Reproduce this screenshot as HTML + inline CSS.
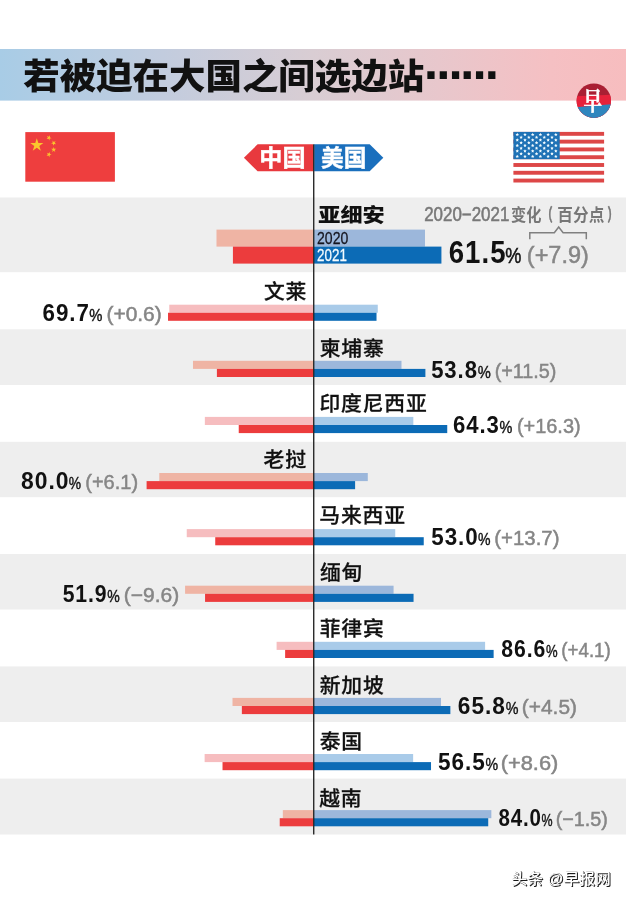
<!DOCTYPE html>
<html lang="zh-CN">
<head>
<meta charset="utf-8">
<title>若被迫在大国之间选边站</title>
<style>
html,body{margin:0;padding:0;background:#fff;}
body{width:626px;height:902px;overflow:hidden;font-family:"Liberation Sans","Noto Sans CJK SC",sans-serif;}
svg{display:block;}
text{white-space:pre;}
</style>
</head>
<body>
<svg width="626" height="902" viewBox="0 0 626 902">
<defs>
<linearGradient id="hg" x1="0" y1="0" x2="1" y2="0">
<stop offset="0" stop-color="#A8CCE6"/>
<stop offset="0.26" stop-color="#C2CCDE"/>
<stop offset="0.5" stop-color="#D9CDD3"/>
<stop offset="0.7" stop-color="#E8C7CC"/>
<stop offset="0.88" stop-color="#F5C0C3"/>
<stop offset="1" stop-color="#F7BDBF"/>
</linearGradient>
<clipPath id="lc"><circle cx="593.8" cy="100.7" r="17.2"/></clipPath>
</defs>
<rect x="0" y="0" width="626" height="902" fill="#fff"/>
<rect x="0" y="49.0" width="626" height="51.6" fill="url(#hg)"/>
<rect x="0.00" y="197.50" width="626.00" height="74.70" fill="#EEEEEE"/>
<rect x="216.49" y="229.60" width="96.51" height="17.00" fill="#EFB4A4"/>
<rect x="232.92" y="246.60" width="80.08" height="17.00" fill="#EC3C3D"/>
<rect x="314.00" y="229.60" width="110.99" height="17.00" fill="#9CB7DB"/>
<rect x="314.00" y="246.60" width="127.42" height="17.00" fill="#0C6BB6"/>
<rect x="169.27" y="304.70" width="143.73" height="8.05" fill="#F6BDBF"/>
<rect x="168.02" y="312.75" width="144.98" height="8.05" fill="#EC3C3D"/>
<rect x="314.00" y="304.70" width="63.77" height="8.05" fill="#A9CBE9"/>
<rect x="314.00" y="312.75" width="62.52" height="8.05" fill="#0C6BB6"/>
<rect x="0.00" y="329.30" width="626.00" height="55.70" fill="#EEEEEE"/>
<rect x="192.98" y="360.80" width="120.02" height="8.10" fill="#EFB4A4"/>
<rect x="216.90" y="368.90" width="96.10" height="8.10" fill="#EC3C3D"/>
<rect x="314.00" y="360.80" width="87.48" height="8.10" fill="#9CB7DB"/>
<rect x="314.00" y="368.90" width="111.40" height="8.10" fill="#0C6BB6"/>
<rect x="204.84" y="416.90" width="108.16" height="8.10" fill="#F6BDBF"/>
<rect x="238.74" y="425.00" width="74.26" height="8.10" fill="#EC3C3D"/>
<rect x="314.00" y="416.90" width="99.34" height="8.10" fill="#A9CBE9"/>
<rect x="314.00" y="425.00" width="133.24" height="8.10" fill="#0C6BB6"/>
<rect x="0.00" y="441.80" width="626.00" height="55.40" fill="#EEEEEE"/>
<rect x="159.29" y="473.00" width="153.71" height="8.10" fill="#EFB4A4"/>
<rect x="146.60" y="481.10" width="166.40" height="8.10" fill="#EC3C3D"/>
<rect x="314.00" y="473.00" width="53.79" height="8.10" fill="#9CB7DB"/>
<rect x="314.00" y="481.10" width="41.10" height="8.10" fill="#0C6BB6"/>
<rect x="186.74" y="529.10" width="126.26" height="8.10" fill="#F6BDBF"/>
<rect x="215.24" y="537.20" width="97.76" height="8.10" fill="#EC3C3D"/>
<rect x="314.00" y="529.10" width="81.24" height="8.10" fill="#A9CBE9"/>
<rect x="314.00" y="537.20" width="109.74" height="8.10" fill="#0C6BB6"/>
<rect x="0.00" y="554.00" width="626.00" height="55.50" fill="#EEEEEE"/>
<rect x="185.08" y="585.70" width="127.92" height="8.10" fill="#EFB4A4"/>
<rect x="205.05" y="593.80" width="107.95" height="8.10" fill="#EC3C3D"/>
<rect x="314.00" y="585.70" width="79.58" height="8.10" fill="#9CB7DB"/>
<rect x="314.00" y="593.80" width="99.55" height="8.10" fill="#0C6BB6"/>
<rect x="276.60" y="641.80" width="36.40" height="8.10" fill="#F6BDBF"/>
<rect x="285.13" y="649.90" width="27.87" height="8.10" fill="#EC3C3D"/>
<rect x="314.00" y="641.80" width="171.10" height="8.10" fill="#A9CBE9"/>
<rect x="314.00" y="649.90" width="179.63" height="8.10" fill="#0C6BB6"/>
<rect x="0.00" y="666.40" width="626.00" height="55.60" fill="#EEEEEE"/>
<rect x="232.50" y="697.90" width="80.50" height="8.10" fill="#EFB4A4"/>
<rect x="241.86" y="706.00" width="71.14" height="8.10" fill="#EC3C3D"/>
<rect x="314.00" y="697.90" width="127.00" height="8.10" fill="#9CB7DB"/>
<rect x="314.00" y="706.00" width="136.36" height="8.10" fill="#0C6BB6"/>
<rect x="204.63" y="754.00" width="108.37" height="8.10" fill="#F6BDBF"/>
<rect x="222.52" y="762.10" width="90.48" height="8.10" fill="#EC3C3D"/>
<rect x="314.00" y="754.00" width="99.13" height="8.10" fill="#A9CBE9"/>
<rect x="314.00" y="762.10" width="117.02" height="8.10" fill="#0C6BB6"/>
<rect x="0.00" y="778.60" width="626.00" height="55.90" fill="#EEEEEE"/>
<rect x="282.84" y="810.10" width="30.16" height="8.10" fill="#EFB4A4"/>
<rect x="279.72" y="818.20" width="33.28" height="8.10" fill="#EC3C3D"/>
<rect x="314.00" y="810.10" width="177.34" height="8.10" fill="#9CB7DB"/>
<rect x="314.00" y="818.20" width="174.22" height="8.10" fill="#0C6BB6"/>
<!-- tags -->
<polygon points="243.9,157.8 257.6,144.3 313.2,144.3 313.2,171.3 257.6,171.3" fill="#E8393E"/>
<polygon points="314.2,144.3 369.7,144.3 383.3,157.8 369.7,171.3 314.2,171.3" fill="#1A6FBD"/>
<!-- center line -->
<rect x="313.05" y="144.3" width="1.35" height="690.2" fill="#222"/>
<!-- china flag -->
<rect x="25.3" y="132.1" width="89.6" height="49.6" fill="#EE3E3E"/>
<g fill="#FAC62D">
<polygon id="st" points="0,-1 0.2245,-0.309 0.951,-0.309 0.363,0.118 0.588,0.809 0,0.382 -0.588,0.809 -0.363,0.118 -0.951,-0.309 -0.2245,-0.309" transform="translate(36.8 145.2) scale(6.9)"/>
<polygon points="0,-1 0.2245,-0.309 0.951,-0.309 0.363,0.118 0.588,0.809 0,0.382 -0.588,0.809 -0.363,0.118 -0.951,-0.309 -0.2245,-0.309" transform="translate(48.9 137.8) rotate(25) scale(2.7)"/>
<polygon points="0,-1 0.2245,-0.309 0.951,-0.309 0.363,0.118 0.588,0.809 0,0.382 -0.588,0.809 -0.363,0.118 -0.951,-0.309 -0.2245,-0.309" transform="translate(53.7 143.0) rotate(45) scale(2.7)"/>
<polygon points="0,-1 0.2245,-0.309 0.951,-0.309 0.363,0.118 0.588,0.809 0,0.382 -0.588,0.809 -0.363,0.118 -0.951,-0.309 -0.2245,-0.309" transform="translate(53.7 149.7) rotate(0) scale(2.7)"/>
<polygon points="0,-1 0.2245,-0.309 0.951,-0.309 0.363,0.118 0.588,0.809 0,0.382 -0.588,0.809 -0.363,0.118 -0.951,-0.309 -0.2245,-0.309" transform="translate(48.9 154.5) rotate(25) scale(2.7)"/>
</g>
<!-- us flag -->
<g>
<rect x="513.4" y="131.9" width="90.7" height="50.6" fill="#fff"/>
<g fill="#DD4747">
<rect x="513.4" y="131.90" width="90.7" height="3.9"/>
<rect x="513.4" y="139.68" width="90.7" height="3.9"/>
<rect x="513.4" y="147.47" width="90.7" height="3.9"/>
<rect x="513.4" y="155.25" width="90.7" height="3.9"/>
<rect x="513.4" y="163.04" width="90.7" height="3.9"/>
<rect x="513.4" y="170.82" width="90.7" height="3.9"/>
<rect x="513.4" y="178.60" width="90.7" height="3.9"/>
</g>
<rect x="513.4" y="131.9" width="46.3" height="27.3" fill="#1F72B6"/>
<g fill="#F2FBFF"><polygon points="517.26,132.83 517.79,133.90 518.97,134.07 518.11,134.91 518.32,136.09 517.26,135.53 516.20,136.09 516.40,134.91 515.55,134.07 516.73,133.90"/><polygon points="524.98,132.83 525.50,133.90 526.69,134.07 525.83,134.91 526.03,136.09 524.98,135.53 523.92,136.09 524.12,134.91 523.26,134.07 524.45,133.90"/><polygon points="532.69,132.83 533.22,133.90 534.40,134.07 533.55,134.91 533.75,136.09 532.69,135.53 531.63,136.09 531.84,134.91 530.98,134.07 532.16,133.90"/><polygon points="540.41,132.83 540.94,133.90 542.12,134.07 541.26,134.91 541.47,136.09 540.41,135.53 539.35,136.09 539.55,134.91 538.70,134.07 539.88,133.90"/><polygon points="548.12,132.83 548.65,133.90 549.84,134.07 548.98,134.91 549.18,136.09 548.12,135.53 547.07,136.09 547.27,134.91 546.41,134.07 547.60,133.90"/><polygon points="555.84,132.83 556.37,133.90 557.55,134.07 556.70,134.91 556.90,136.09 555.84,135.53 554.78,136.09 554.99,134.91 554.13,134.07 555.31,133.90"/><polygon points="521.12,135.56 521.65,136.63 522.83,136.80 521.97,137.64 522.17,138.82 521.12,138.26 520.06,138.82 520.26,137.64 519.40,136.80 520.59,136.63"/><polygon points="528.83,135.56 529.36,136.63 530.55,136.80 529.69,137.64 529.89,138.82 528.83,138.26 527.78,138.82 527.98,137.64 527.12,136.80 528.30,136.63"/><polygon points="536.55,135.56 537.08,136.63 538.26,136.80 537.41,137.64 537.61,138.82 536.55,138.26 535.49,138.82 535.69,137.64 534.84,136.80 536.02,136.63"/><polygon points="544.27,135.56 544.80,136.63 545.98,136.80 545.12,137.64 545.32,138.82 544.27,138.26 543.21,138.82 543.41,137.64 542.55,136.80 543.74,136.63"/><polygon points="551.98,135.56 552.51,136.63 553.70,136.80 552.84,137.64 553.04,138.82 551.98,138.26 550.93,138.82 551.13,137.64 550.27,136.80 551.45,136.63"/><polygon points="517.26,138.29 517.79,139.36 518.97,139.53 518.11,140.37 518.32,141.55 517.26,140.99 516.20,141.55 516.40,140.37 515.55,139.53 516.73,139.36"/><polygon points="524.98,138.29 525.50,139.36 526.69,139.53 525.83,140.37 526.03,141.55 524.98,140.99 523.92,141.55 524.12,140.37 523.26,139.53 524.45,139.36"/><polygon points="532.69,138.29 533.22,139.36 534.40,139.53 533.55,140.37 533.75,141.55 532.69,140.99 531.63,141.55 531.84,140.37 530.98,139.53 532.16,139.36"/><polygon points="540.41,138.29 540.94,139.36 542.12,139.53 541.26,140.37 541.47,141.55 540.41,140.99 539.35,141.55 539.55,140.37 538.70,139.53 539.88,139.36"/><polygon points="548.12,138.29 548.65,139.36 549.84,139.53 548.98,140.37 549.18,141.55 548.12,140.99 547.07,141.55 547.27,140.37 546.41,139.53 547.60,139.36"/><polygon points="555.84,138.29 556.37,139.36 557.55,139.53 556.70,140.37 556.90,141.55 555.84,140.99 554.78,141.55 554.99,140.37 554.13,139.53 555.31,139.36"/><polygon points="521.12,141.02 521.65,142.09 522.83,142.26 521.97,143.10 522.17,144.28 521.12,143.72 520.06,144.28 520.26,143.10 519.40,142.26 520.59,142.09"/><polygon points="528.83,141.02 529.36,142.09 530.55,142.26 529.69,143.10 529.89,144.28 528.83,143.72 527.78,144.28 527.98,143.10 527.12,142.26 528.30,142.09"/><polygon points="536.55,141.02 537.08,142.09 538.26,142.26 537.41,143.10 537.61,144.28 536.55,143.72 535.49,144.28 535.69,143.10 534.84,142.26 536.02,142.09"/><polygon points="544.27,141.02 544.80,142.09 545.98,142.26 545.12,143.10 545.32,144.28 544.27,143.72 543.21,144.28 543.41,143.10 542.55,142.26 543.74,142.09"/><polygon points="551.98,141.02 552.51,142.09 553.70,142.26 552.84,143.10 553.04,144.28 551.98,143.72 550.93,144.28 551.13,143.10 550.27,142.26 551.45,142.09"/><polygon points="517.26,143.75 517.79,144.82 518.97,144.99 518.11,145.83 518.32,147.01 517.26,146.45 516.20,147.01 516.40,145.83 515.55,144.99 516.73,144.82"/><polygon points="524.98,143.75 525.50,144.82 526.69,144.99 525.83,145.83 526.03,147.01 524.98,146.45 523.92,147.01 524.12,145.83 523.26,144.99 524.45,144.82"/><polygon points="532.69,143.75 533.22,144.82 534.40,144.99 533.55,145.83 533.75,147.01 532.69,146.45 531.63,147.01 531.84,145.83 530.98,144.99 532.16,144.82"/><polygon points="540.41,143.75 540.94,144.82 542.12,144.99 541.26,145.83 541.47,147.01 540.41,146.45 539.35,147.01 539.55,145.83 538.70,144.99 539.88,144.82"/><polygon points="548.12,143.75 548.65,144.82 549.84,144.99 548.98,145.83 549.18,147.01 548.12,146.45 547.07,147.01 547.27,145.83 546.41,144.99 547.60,144.82"/><polygon points="555.84,143.75 556.37,144.82 557.55,144.99 556.70,145.83 556.90,147.01 555.84,146.45 554.78,147.01 554.99,145.83 554.13,144.99 555.31,144.82"/><polygon points="521.12,146.48 521.65,147.55 522.83,147.72 521.97,148.56 522.17,149.74 521.12,149.18 520.06,149.74 520.26,148.56 519.40,147.72 520.59,147.55"/><polygon points="528.83,146.48 529.36,147.55 530.55,147.72 529.69,148.56 529.89,149.74 528.83,149.18 527.78,149.74 527.98,148.56 527.12,147.72 528.30,147.55"/><polygon points="536.55,146.48 537.08,147.55 538.26,147.72 537.41,148.56 537.61,149.74 536.55,149.18 535.49,149.74 535.69,148.56 534.84,147.72 536.02,147.55"/><polygon points="544.27,146.48 544.80,147.55 545.98,147.72 545.12,148.56 545.32,149.74 544.27,149.18 543.21,149.74 543.41,148.56 542.55,147.72 543.74,147.55"/><polygon points="551.98,146.48 552.51,147.55 553.70,147.72 552.84,148.56 553.04,149.74 551.98,149.18 550.93,149.74 551.13,148.56 550.27,147.72 551.45,147.55"/><polygon points="517.26,149.21 517.79,150.28 518.97,150.45 518.11,151.29 518.32,152.47 517.26,151.91 516.20,152.47 516.40,151.29 515.55,150.45 516.73,150.28"/><polygon points="524.98,149.21 525.50,150.28 526.69,150.45 525.83,151.29 526.03,152.47 524.98,151.91 523.92,152.47 524.12,151.29 523.26,150.45 524.45,150.28"/><polygon points="532.69,149.21 533.22,150.28 534.40,150.45 533.55,151.29 533.75,152.47 532.69,151.91 531.63,152.47 531.84,151.29 530.98,150.45 532.16,150.28"/><polygon points="540.41,149.21 540.94,150.28 542.12,150.45 541.26,151.29 541.47,152.47 540.41,151.91 539.35,152.47 539.55,151.29 538.70,150.45 539.88,150.28"/><polygon points="548.12,149.21 548.65,150.28 549.84,150.45 548.98,151.29 549.18,152.47 548.12,151.91 547.07,152.47 547.27,151.29 546.41,150.45 547.60,150.28"/><polygon points="555.84,149.21 556.37,150.28 557.55,150.45 556.70,151.29 556.90,152.47 555.84,151.91 554.78,152.47 554.99,151.29 554.13,150.45 555.31,150.28"/><polygon points="521.12,151.94 521.65,153.01 522.83,153.18 521.97,154.02 522.17,155.20 521.12,154.64 520.06,155.20 520.26,154.02 519.40,153.18 520.59,153.01"/><polygon points="528.83,151.94 529.36,153.01 530.55,153.18 529.69,154.02 529.89,155.20 528.83,154.64 527.78,155.20 527.98,154.02 527.12,153.18 528.30,153.01"/><polygon points="536.55,151.94 537.08,153.01 538.26,153.18 537.41,154.02 537.61,155.20 536.55,154.64 535.49,155.20 535.69,154.02 534.84,153.18 536.02,153.01"/><polygon points="544.27,151.94 544.80,153.01 545.98,153.18 545.12,154.02 545.32,155.20 544.27,154.64 543.21,155.20 543.41,154.02 542.55,153.18 543.74,153.01"/><polygon points="551.98,151.94 552.51,153.01 553.70,153.18 552.84,154.02 553.04,155.20 551.98,154.64 550.93,155.20 551.13,154.02 550.27,153.18 551.45,153.01"/><polygon points="517.26,154.67 517.79,155.74 518.97,155.91 518.11,156.75 518.32,157.93 517.26,157.37 516.20,157.93 516.40,156.75 515.55,155.91 516.73,155.74"/><polygon points="524.98,154.67 525.50,155.74 526.69,155.91 525.83,156.75 526.03,157.93 524.98,157.37 523.92,157.93 524.12,156.75 523.26,155.91 524.45,155.74"/><polygon points="532.69,154.67 533.22,155.74 534.40,155.91 533.55,156.75 533.75,157.93 532.69,157.37 531.63,157.93 531.84,156.75 530.98,155.91 532.16,155.74"/><polygon points="540.41,154.67 540.94,155.74 542.12,155.91 541.26,156.75 541.47,157.93 540.41,157.37 539.35,157.93 539.55,156.75 538.70,155.91 539.88,155.74"/><polygon points="548.12,154.67 548.65,155.74 549.84,155.91 548.98,156.75 549.18,157.93 548.12,157.37 547.07,157.93 547.27,156.75 546.41,155.91 547.60,155.74"/><polygon points="555.84,154.67 556.37,155.74 557.55,155.91 556.70,156.75 556.90,157.93 555.84,157.37 554.78,157.93 554.99,156.75 554.13,155.91 555.31,155.74"/></g>
</g>
<!-- logo -->
<g clip-path="url(#lc)">
<rect x="576" y="83" width="36" height="36" fill="#A91F33"/>
<polygon points="576,96.2 612,94.8 612,119 576,119" fill="#E6223B"/>
<polygon points="576,107.2 612,104.2 612,119 576,119" fill="#2F86BE"/>
</g>
<!-- bracket -->
<path d="M529.8 239.3 V232.8 H554.3 L558.7 227.0 L563.1 232.8 H586.3 V239.3" fill="none" stroke="#808080" stroke-width="1.5"/>
<!-- watermark -->
<text x="424.05" y="78.1" font-family="'Liberation Sans',sans-serif" font-weight="700" font-size="38.66" fill="#111" stroke="#111" stroke-width="1.8" stroke-linejoin="miter">…<tspan dx="-2.42">…</tspan></text>

<text transform="translate(318.34 221.80) scale(1.1618 1)" font-family="'Liberation Sans','Noto Sans CJK SC',sans-serif" font-weight="900" font-size="19.07" fill="#111">亚细安</text>
<text transform="translate(448.70 262.60) scale(0.8755 1)" font-family="'Liberation Sans',sans-serif" font-weight="700" font-size="31.50" fill="#111" letter-spacing="1.2">61.5</text>
<text transform="translate(505.22 262.60) scale(0.8066 1)" font-family="'Liberation Sans',sans-serif" font-weight="400" font-size="22.50" fill="#111" stroke="#111" stroke-width="0.5" stroke-linejoin="miter">%</text>
<text transform="translate(526.84 262.60) scale(0.9980 1)" font-family="'Liberation Sans',sans-serif" font-weight="400" font-size="23.50" fill="#868686" stroke="#868686" stroke-width="0.5" stroke-linejoin="miter">(+7.9)</text>
<text transform="translate(263.97 298.90) scale(1.0400 1)" font-family="'Liberation Sans','Noto Sans CJK SC',sans-serif" font-weight="500" font-size="20.00" fill="#111" stroke="#111" stroke-width="0.25" stroke-linejoin="miter" letter-spacing="0.8">文莱</text>
<text transform="translate(42.61 321.00) scale(0.9505 1)" font-family="'Liberation Sans',sans-serif" font-weight="700" font-size="23.50" fill="#111" letter-spacing="1.0">69.7</text>
<text transform="translate(89.21 321.00) scale(0.9145 1)" font-family="'Liberation Sans',sans-serif" font-weight="400" font-size="16.20" fill="#111" stroke="#111" stroke-width="0.4" stroke-linejoin="miter">%</text>
<text transform="translate(106.39 321.00) scale(1.0240 1)" font-family="'Liberation Sans',sans-serif" font-weight="400" font-size="20.50" fill="#868686" stroke="#868686" stroke-width="0.5" stroke-linejoin="miter">(+0.6)</text>
<text transform="translate(319.69 355.50) scale(1.0400 1)" font-family="'Liberation Sans','Noto Sans CJK SC',sans-serif" font-weight="500" font-size="20.00" fill="#111" stroke="#111" stroke-width="0.25" stroke-linejoin="miter" letter-spacing="0.8">柬埔寨</text>
<text transform="translate(431.14 377.90) scale(0.9406 1)" font-family="'Liberation Sans',sans-serif" font-weight="700" font-size="23.50" fill="#111" letter-spacing="1.0">53.8</text>
<text transform="translate(477.71 377.90) scale(0.9069 1)" font-family="'Liberation Sans',sans-serif" font-weight="400" font-size="16.20" fill="#111" stroke="#111" stroke-width="0.4" stroke-linejoin="miter">%</text>
<text transform="translate(494.66 377.90) scale(0.9659 1)" font-family="'Liberation Sans',sans-serif" font-weight="400" font-size="20.50" fill="#868686" stroke="#868686" stroke-width="0.5" stroke-linejoin="miter">(+11.5)</text>
<text transform="translate(319.48 410.60) scale(1.0400 1)" font-family="'Liberation Sans','Noto Sans CJK SC',sans-serif" font-weight="500" font-size="20.00" fill="#111" stroke="#111" stroke-width="0.25" stroke-linejoin="miter" letter-spacing="0.8">印度尼西亚</text>
<text transform="translate(453.01 433.20) scale(0.9415 1)" font-family="'Liberation Sans',sans-serif" font-weight="700" font-size="23.50" fill="#111" letter-spacing="1.0">64.3</text>
<text transform="translate(499.42 433.20) scale(0.8916 1)" font-family="'Liberation Sans',sans-serif" font-weight="400" font-size="16.20" fill="#111" stroke="#111" stroke-width="0.4" stroke-linejoin="miter">%</text>
<text transform="translate(516.95 433.20) scale(0.9724 1)" font-family="'Liberation Sans',sans-serif" font-weight="400" font-size="20.50" fill="#868686" stroke="#868686" stroke-width="0.5" stroke-linejoin="miter">(+16.3)</text>
<text transform="translate(263.56 467.30) scale(1.0400 1)" font-family="'Liberation Sans','Noto Sans CJK SC',sans-serif" font-weight="500" font-size="20.00" fill="#111" stroke="#111" stroke-width="0.25" stroke-linejoin="miter" letter-spacing="0.8">老挝</text>
<text transform="translate(21.11 489.30) scale(0.9735 1)" font-family="'Liberation Sans',sans-serif" font-weight="700" font-size="23.50" fill="#111" letter-spacing="1.0">80.0</text>
<text transform="translate(68.85 489.30) scale(0.8535 1)" font-family="'Liberation Sans',sans-serif" font-weight="400" font-size="16.20" fill="#111" stroke="#111" stroke-width="0.4" stroke-linejoin="miter">%</text>
<text transform="translate(85.25 489.30) scale(0.9775 1)" font-family="'Liberation Sans',sans-serif" font-weight="400" font-size="20.50" fill="#868686" stroke="#868686" stroke-width="0.5" stroke-linejoin="miter">(+6.1)</text>
<text transform="translate(319.28 522.90) scale(1.0400 1)" font-family="'Liberation Sans','Noto Sans CJK SC',sans-serif" font-weight="500" font-size="20.00" fill="#111" stroke="#111" stroke-width="0.25" stroke-linejoin="miter" letter-spacing="0.8">马来西亚</text>
<text transform="translate(431.23 545.40) scale(0.9543 1)" font-family="'Liberation Sans',sans-serif" font-weight="700" font-size="23.50" fill="#111" letter-spacing="1.0">53.0</text>
<text transform="translate(478.04 545.40) scale(0.8688 1)" font-family="'Liberation Sans',sans-serif" font-weight="400" font-size="16.20" fill="#111" stroke="#111" stroke-width="0.4" stroke-linejoin="miter">%</text>
<text transform="translate(494.33 545.40) scale(0.9947 1)" font-family="'Liberation Sans',sans-serif" font-weight="400" font-size="20.50" fill="#868686" stroke="#868686" stroke-width="0.5" stroke-linejoin="miter">(+13.7)</text>
<text transform="translate(319.90 579.90) scale(1.0400 1)" font-family="'Liberation Sans','Noto Sans CJK SC',sans-serif" font-weight="500" font-size="20.00" fill="#111" stroke="#111" stroke-width="0.25" stroke-linejoin="miter" letter-spacing="0.8">缅甸</text>
<text transform="translate(62.66 601.50) scale(0.9029 1)" font-family="'Liberation Sans',sans-serif" font-weight="700" font-size="23.50" fill="#111" letter-spacing="1.0">51.9</text>
<text transform="translate(107.24 601.50) scale(0.8688 1)" font-family="'Liberation Sans',sans-serif" font-weight="400" font-size="16.20" fill="#111" stroke="#111" stroke-width="0.4" stroke-linejoin="miter">%</text>
<text transform="translate(123.79 601.50) scale(1.0259 1)" font-family="'Liberation Sans',sans-serif" font-weight="400" font-size="20.50" fill="#868686" stroke="#868686" stroke-width="0.5" stroke-linejoin="miter">(−9.6)</text>
<text transform="translate(319.69 636.00) scale(1.0400 1)" font-family="'Liberation Sans','Noto Sans CJK SC',sans-serif" font-weight="500" font-size="20.00" fill="#111" stroke="#111" stroke-width="0.25" stroke-linejoin="miter" letter-spacing="0.8">菲律宾</text>
<text transform="translate(501.26 657.20) scale(0.9029 1)" font-family="'Liberation Sans',sans-serif" font-weight="700" font-size="23.50" fill="#111" letter-spacing="1.0">86.6</text>
<text transform="translate(545.88 657.20) scale(0.8078 1)" font-family="'Liberation Sans',sans-serif" font-weight="400" font-size="16.20" fill="#111" stroke="#111" stroke-width="0.4" stroke-linejoin="miter">%</text>
<text transform="translate(561.33 657.20) scale(0.9137 1)" font-family="'Liberation Sans',sans-serif" font-weight="400" font-size="20.50" fill="#868686" stroke="#868686" stroke-width="0.5" stroke-linejoin="miter">(+4.1)</text>
<text transform="translate(319.69 692.50) scale(1.0400 1)" font-family="'Liberation Sans','Noto Sans CJK SC',sans-serif" font-weight="500" font-size="20.00" fill="#111" stroke="#111" stroke-width="0.25" stroke-linejoin="miter" letter-spacing="0.8">新加坡</text>
<text transform="translate(457.79 713.70) scale(0.9665 1)" font-family="'Liberation Sans',sans-serif" font-weight="700" font-size="23.50" fill="#111" letter-spacing="1.0">65.8</text>
<text transform="translate(505.63 713.70) scale(0.8840 1)" font-family="'Liberation Sans',sans-serif" font-weight="400" font-size="16.20" fill="#111" stroke="#111" stroke-width="0.4" stroke-linejoin="miter">%</text>
<text transform="translate(521.80 713.70) scale(1.0201 1)" font-family="'Liberation Sans',sans-serif" font-weight="400" font-size="20.50" fill="#868686" stroke="#868686" stroke-width="0.5" stroke-linejoin="miter">(+4.5)</text>
<text transform="translate(319.69 748.80) scale(1.0400 1)" font-family="'Liberation Sans','Noto Sans CJK SC',sans-serif" font-weight="500" font-size="20.00" fill="#111" stroke="#111" stroke-width="0.25" stroke-linejoin="miter" letter-spacing="0.8">泰国</text>
<text transform="translate(438.02 769.80) scale(0.9596 1)" font-family="'Liberation Sans',sans-serif" font-weight="700" font-size="23.50" fill="#111" letter-spacing="1.0">56.5</text>
<text transform="translate(485.53 769.80) scale(0.8764 1)" font-family="'Liberation Sans',sans-serif" font-weight="400" font-size="16.20" fill="#111" stroke="#111" stroke-width="0.4" stroke-linejoin="miter">%</text>
<text transform="translate(500.74 769.80) scale(1.0647 1)" font-family="'Liberation Sans',sans-serif" font-weight="400" font-size="20.50" fill="#868686" stroke="#868686" stroke-width="0.5" stroke-linejoin="miter">(+8.6)</text>
<text transform="translate(319.21 805.70) scale(1.0400 1)" font-family="'Liberation Sans','Noto Sans CJK SC',sans-serif" font-weight="500" font-size="20.00" fill="#111" stroke="#111" stroke-width="0.25" stroke-linejoin="miter" letter-spacing="0.8">越南</text>
<text transform="translate(498.38 825.90) scale(0.8734 1)" font-family="'Liberation Sans',sans-serif" font-weight="700" font-size="23.50" fill="#111" letter-spacing="1.0">84.0</text>
<text transform="translate(541.40 825.90) scale(0.7697 1)" font-family="'Liberation Sans',sans-serif" font-weight="400" font-size="16.20" fill="#111" stroke="#111" stroke-width="0.4" stroke-linejoin="miter">%</text>
<text transform="translate(555.66 825.90) scale(0.9659 1)" font-family="'Liberation Sans',sans-serif" font-weight="400" font-size="20.50" fill="#868686" stroke="#868686" stroke-width="0.5" stroke-linejoin="miter">(−1.5)</text>
<text transform="translate(317.02 243.62) scale(0.8954 1)" font-family="'Liberation Sans',sans-serif" font-weight="400" font-size="15.70" fill="#15151f" stroke="#15151f" stroke-width="0.25" stroke-linejoin="miter">2020</text>
<text transform="translate(317.05 260.52) scale(0.8545 1)" font-family="'Liberation Sans',sans-serif" font-weight="400" font-size="15.70" fill="#f4fbff" stroke="#f4fbff" stroke-width="0.25" stroke-linejoin="miter">2021</text>
<text transform="translate(424.13 220.83) scale(0.8625 1)" font-family="'Liberation Sans',sans-serif" font-weight="400" font-size="19.65" fill="#787878" stroke="#787878" stroke-width="0.55" stroke-linejoin="miter">2020−2021</text>
<text transform="translate(511.09 220.86) scale(0.8727 1)" font-family="'Liberation Sans','Noto Sans CJK SC',sans-serif" font-weight="700" font-size="17.40" fill="#777777">变化</text>
<text transform="translate(542.27 221.17) scale(0.5983 1)" font-family="'Liberation Sans','Noto Sans CJK SC',sans-serif" font-weight="700" font-size="17.29" fill="#777777" stroke="#777777" stroke-width="0.6" stroke-linejoin="miter">（</text>
<text transform="translate(557.36 221.04) scale(0.9028 1)" font-family="'Liberation Sans','Noto Sans CJK SC',sans-serif" font-weight="700" font-size="17.34" fill="#777777">百分点</text>
<text transform="translate(607.48 221.17) scale(0.5983 1)" font-family="'Liberation Sans','Noto Sans CJK SC',sans-serif" font-weight="700" font-size="17.29" fill="#777777" stroke="#777777" stroke-width="0.6" stroke-linejoin="miter">）</text>
<text transform="translate(23.27 89.16) scale(1.0447 1)" font-family="'Liberation Sans','Noto Sans CJK SC',sans-serif" font-weight="900" font-size="34.90" fill="#111">若被迫在大国之间选边站</text>
<text transform="translate(259.21 165.82) scale(1.0037 1)" font-family="'Liberation Sans','Noto Sans CJK SC',sans-serif" font-weight="700" font-size="23.09" fill="#fff" stroke="#fff" stroke-width="0.4" stroke-linejoin="miter">中国</text>
<text transform="translate(321.12 165.84) scale(0.9937 1)" font-family="'Liberation Sans','Noto Sans CJK SC',sans-serif" font-weight="700" font-size="22.84" fill="#fff" stroke="#fff" stroke-width="0.4" stroke-linejoin="miter">美国</text>
<text transform="translate(583.41 110.15) scale(0.7562 1)" font-family="'Liberation Serif','Noto Serif CJK SC',serif" font-weight="700" font-size="24.46" fill="#fff" stroke="#fff" stroke-width="0.5" stroke-linejoin="miter">早</text>
<text transform="translate(511.51 883.75) scale(1.0530 1)" font-family="'Liberation Sans','Noto Sans CJK SC',sans-serif" font-weight="500" font-size="15.00" fill="#fff" style="text-shadow:0.95px 1.0px 0 #1a1a1a, 0.47px 0.5px 0 #1a1a1a">头条 @早报网</text>
</svg>
</body>
</html>
